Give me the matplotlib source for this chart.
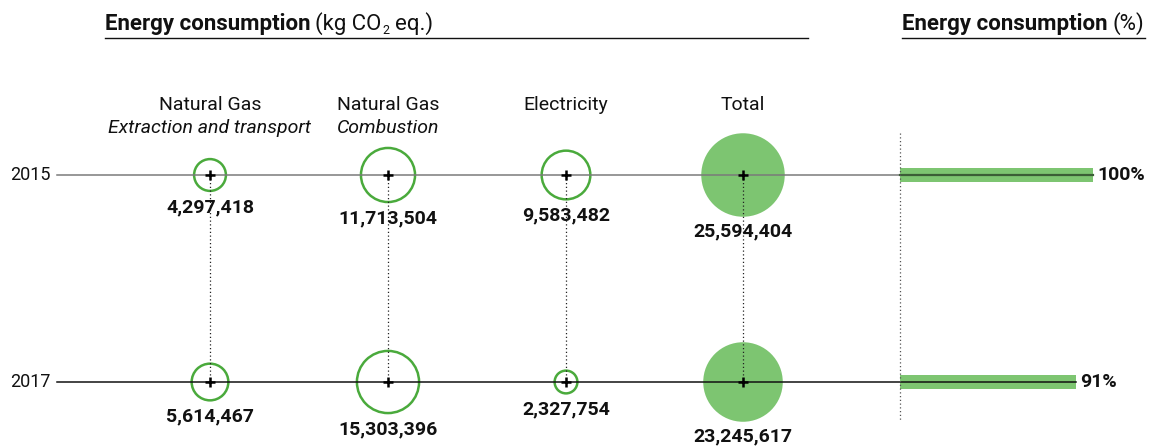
import matplotlib
matplotlib.use("Agg")
import matplotlib.pyplot as plt
import numpy as np

# ---- data ----
years = ["2015", "2017"]
categories = ["Natural Gas", "Natural Gas", "Electricity", "Total"]
subtitles = ["Extraction and transport", "Combustion", "", ""]
values_2015 = [4297418, 11713504, 9583482, 25594404]
values_2017 = [5614467, 15303396, 2327754, 23245617]
pct = [100, 91]
pct_labels = ["100%", "91%"]

# ---- layout (pixel-like axes) ----
W, H = 1151, 447
DPI = 100
FONT = "Roboto"
green_line = "#4aaa3c"
green_fill = "#7dc571"

fig = plt.figure(figsize=(W / DPI, H / DPI), dpi=DPI)
ax = fig.add_axes([0, 0, 1, 1])
ax.set_xlim(0, W)
ax.set_ylim(H, 0)
ax.axis("off")

x_pos = [210, 388, 566, 743]
y_pos = [175, 382]
bar_x0 = 900
bar_full = 193
line_x0 = 57

def radius_px(v):
    return 8.25 * np.sqrt(v / 1e6)

def s_from_r(r):
    d_pt = 2 * r * 72 / DPI
    return d_pt ** 2

all_vals = [values_2015, values_2017]

# bars
for yi, p in zip(y_pos, pct):
    ax.barh(yi, p / 100 * bar_full, left=bar_x0, height=14, color=green_fill, zorder=1)

# circles
for yi, vals in zip(y_pos, all_vals):
    for i, (xi, v) in enumerate(zip(x_pos, vals)):
        r = radius_px(v)
        if i == 3:
            ax.scatter([xi], [yi], s=s_from_r(r), color=green_fill, edgecolors="none", zorder=2)
        else:
            ax.scatter([xi], [yi], s=s_from_r(r - 1.2), facecolors="none",
                       edgecolors=green_line, linewidths=1.8, zorder=2)

# horizontal lines
ax.plot([line_x0, bar_x0], [y_pos[0]] * 2, color="#7a7a7a", lw=1.1, zorder=3)
ax.plot([bar_x0, bar_x0 + pct[0] / 100 * bar_full], [y_pos[0]] * 2, color="#3b5e36", lw=1.6, zorder=3)
ax.plot([line_x0, bar_x0 + pct[1] / 100 * bar_full], [y_pos[1]] * 2, color="#111111", lw=1.1, zorder=3)

# vertical dotted connectors
for xi in x_pos:
    ax.plot([xi, xi], y_pos, color="#222222", lw=0.9, ls=(0, (1, 2)), zorder=3)
ax.plot([bar_x0, bar_x0], [133, 420], color="#555555", lw=0.9, ls=(0, (1, 2)), zorder=3)

# plus markers
for yi in y_pos:
    ax.scatter(x_pos, [yi] * len(x_pos), marker="+", s=50, color="black", linewidths=1.8, zorder=4)

# value labels
for yi, vals in zip(y_pos, all_vals):
    for xi, v in zip(x_pos, vals):
        r = radius_px(v)
        ax.text(xi, yi + r + 6, f"{v:,}", ha="center", va="top", fontsize=14,
                fontweight="bold", family=FONT, color="#111111", zorder=5)

# year labels
for yi, yr in zip(y_pos, years):
    ax.text(10, yi, yr, ha="left", va="center", fontsize=13, family=FONT, color="#111111")

# category labels
fig.canvas.draw()
renderer = fig.canvas.get_renderer()
inv = ax.transData.inverted()

for xi, c, st in zip(x_pos, categories, subtitles):
    t = ax.text(xi, 105, c, ha="center", va="center", fontsize=14, family=FONT, color="#111111")
    if st:
        if len(st) > 12:
            ax.text(xi, 128, st, ha="center", va="center", fontsize=14, family=FONT,
                    style="italic", color="#111111")
        else:
            bb = t.get_window_extent(renderer)
            x_left = inv.transform((bb.x0, bb.y0))[0]
            ax.text(x_left, 128, st, ha="left", va="center", fontsize=14, family=FONT,
                    style="italic", color="#111111")

# pct labels
for yi, p, lab in zip(y_pos, pct, pct_labels):
    ax.text(bar_x0 + p / 100 * bar_full + 4, yi, lab, ha="left", va="center", fontsize=14,
            fontweight="bold", family=FONT, color="#111111")

# titles with mixed styles
def put(x, y, s, **kw):
    t = ax.text(x, y, s, ha="left", va="baseline", family=FONT, color="#111111", **kw)
    bb = t.get_window_extent(renderer)
    return inv.transform((bb.x1, bb.y0))[0]

x = put(105, 30, "Energy consumption", fontsize=16, fontweight="bold")
x = put(x + 5, 30, "(kg CO", fontsize=16)
x = put(x + 1, 34, "2", fontsize=9)
x = put(x + 5, 30, "eq.)", fontsize=16)
ax.plot([105, 808], [38, 38], color="#111111", lw=1.0)

x = put(902, 30, "Energy consumption", fontsize=16, fontweight="bold")
x = put(x + 5, 30, "(%)", fontsize=16)
ax.plot([902, 1145], [38, 38], color="#111111", lw=1.0)

fig.savefig("out.png", dpi=DPI)
